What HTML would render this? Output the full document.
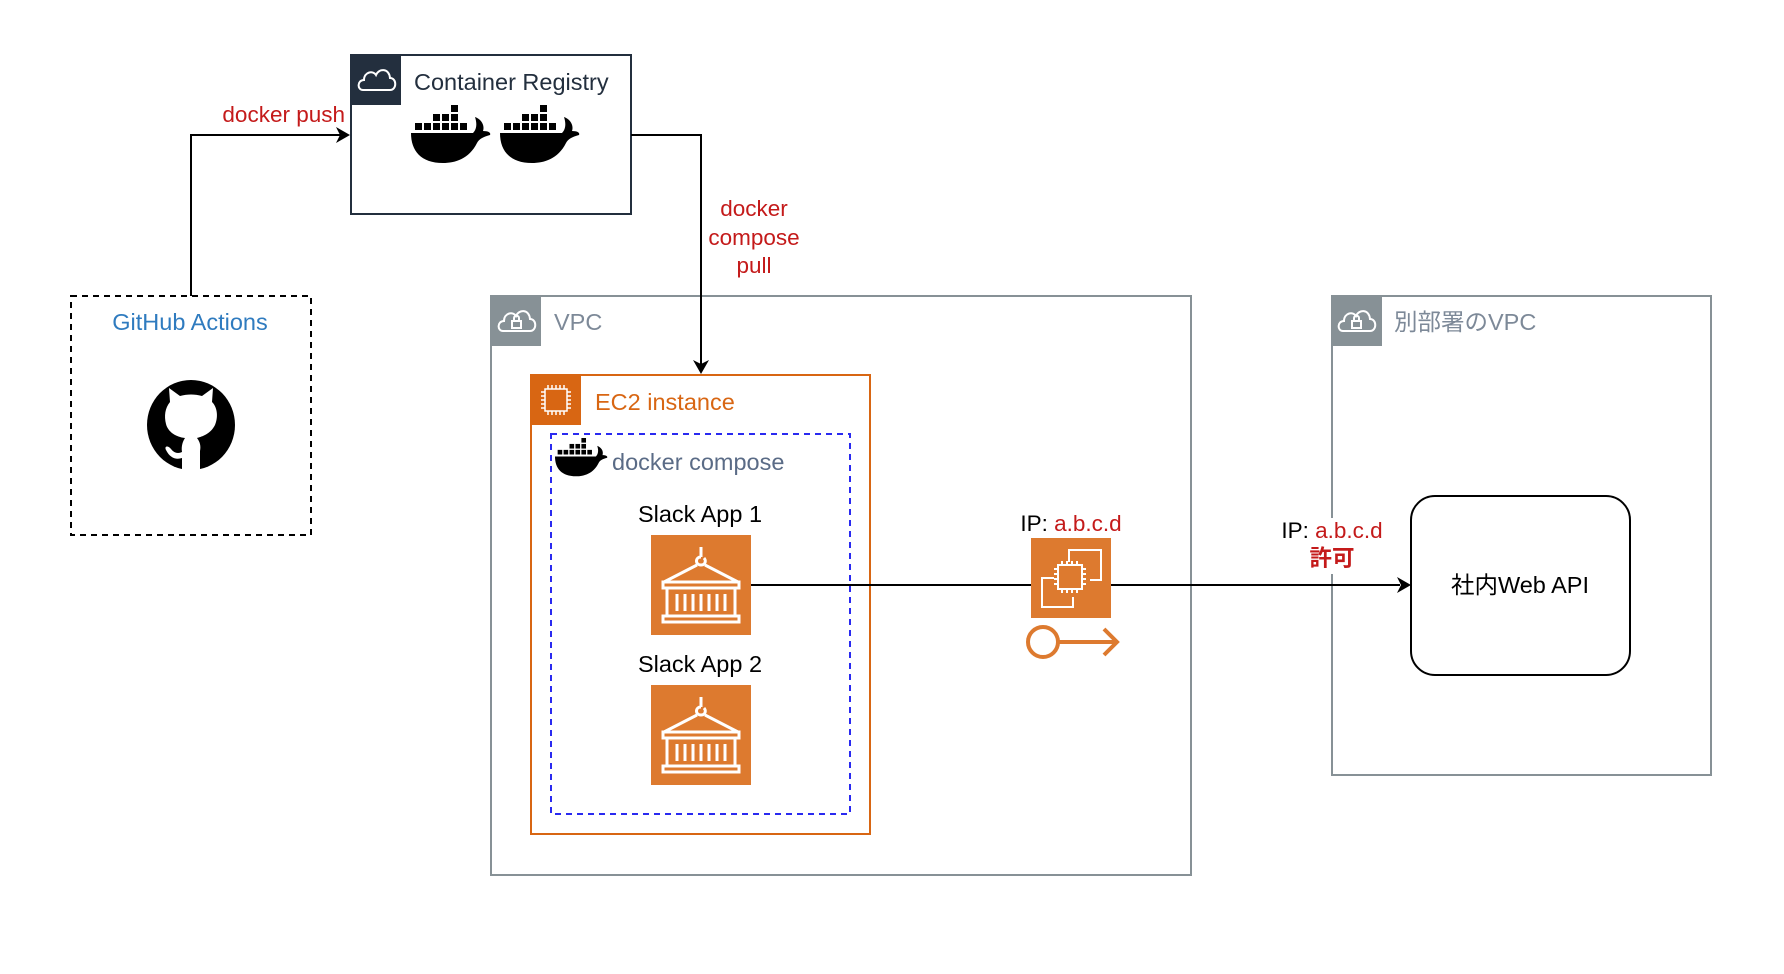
<!DOCTYPE html>
<html><head><meta charset="utf-8"><style>
html,body{margin:0;padding:0;background:#fff;}
svg{display:block;font-family:"Liberation Sans","Noto Sans CJK JP",sans-serif;}
</style></head><body>
<svg width="1784" height="974" viewBox="0 0 1784 974" xmlns="http://www.w3.org/2000/svg">
<defs>
<g id="whale">
<rect x="40" y="0" width="7" height="7"/>
<rect x="22" y="9" width="7" height="7"/><rect x="31" y="9" width="7" height="7"/><rect x="40" y="9" width="7" height="7"/>
<rect x="4" y="18" width="7" height="7"/><rect x="13" y="18" width="7" height="7"/><rect x="22" y="18" width="7" height="7"/><rect x="31" y="18" width="7" height="7"/><rect x="40" y="18" width="7" height="7"/><rect x="49" y="18" width="7" height="7"/>
<path d="M0 28 H62 C66 24 66 18 64 12 C70 14 74 20 72 26 C78 26 80 28 79 30 C72 32 68 34 66 38 C58 54 44 58 32 58 C10 58 0 46 0 28 Z"/>
</g>
<g id="cont" fill="none" stroke="#fff" stroke-width="3">
<path d="M50 12 V22 M50 22 C44 22 44 30 50 30 C55 30 55 25 53 23"/>
<path d="M46 30 L13 47 M54 30 L87 47"/>
<rect x="12" y="47" width="76" height="6"/>
<rect x="16" y="53" width="68" height="28"/>
<path d="M26 59 V76 M34 59 V76 M42 59 V76 M50 59 V76 M58 59 V76 M66 59 V76 M74 59 V76"/>
<rect x="12" y="81" width="76" height="6"/>
</g>
<g id="cloud" fill="none" stroke="#fff" stroke-width="2">
<path d="M8 30 C2 30 2 20 9 20 C9 12 18 10 21 15 C24 8 34 8 35 18 C42 18 42 30 35 30 Z"/>
</g>
</defs>

<!-- Container Registry -->
<rect x="351" y="55" width="280" height="159" fill="#fff" stroke="#232F3E" stroke-width="2"/>
<rect x="351" y="55" width="50" height="50" fill="#232F3E"/>
<g transform="translate(355,60)"><use href="#cloud"/></g>
<text x="414" y="90" font-size="23.5" fill="#232F3E">Container Registry</text>
<g transform="translate(411,105)"><use href="#whale"/></g>
<g transform="translate(500,105)"><use href="#whale"/></g>
<text x="345" y="122" font-size="22.5" fill="#C41A1A" text-anchor="end">docker push</text>
<g font-size="22.5" fill="#C41A1A" text-anchor="middle">
<text x="754" y="216">docker</text><text x="754" y="245">compose</text><text x="754" y="273">pull</text>
</g>

<!-- GitHub -->
<rect x="71" y="296" width="240" height="239" fill="none" stroke="#000" stroke-width="2" stroke-dasharray="6 5"/>
<text x="190" y="330" font-size="23.5" fill="#2F7BBF" text-anchor="middle">GitHub Actions</text>
<ellipse cx="191" cy="425" rx="44" ry="45" fill="#000"/>
<path d="M170 402 L169 388 L180 396 C187 394 195 394 202 396 L213 388 L212 402 C218 408 218 418 215 425 C210 435 200 437 197 438 C200 442 201 446 200 451 L200 470 L182 470 L182 458 C176 460 170 458 166 450 C164 446 168 445 171 449 C174 453 178 454 182 452 C181 446 183 441 185 438 C176 437 168 432 166 424 C164 416 165 408 170 402 Z" fill="#fff"/>

<!-- VPC -->
<rect x="491" y="296" width="700" height="579" fill="none" stroke="#879196" stroke-width="2"/>
<rect x="491" y="296" width="50" height="50" fill="#879196"/>
<g transform="translate(495,301)"><use href="#cloud"/><rect x="17" y="20" width="9" height="7" fill="none" stroke="#fff" stroke-width="2"/><path d="M19 20 V17 C19 14 24 14 24 17 V20" fill="none" stroke="#fff" stroke-width="2"/></g>
<text x="554" y="330" font-size="23.5" fill="#7D8998">VPC</text>

<!-- EC2 -->
<rect x="531" y="375" width="339" height="459" fill="#fff" stroke="#D86613" stroke-width="2"/>
<rect x="531" y="375" width="50" height="50" fill="#D86613"/>
<g fill="none" stroke="#fff" stroke-width="1.5"><rect x="545" y="389" width="22" height="22"/><path d="M548 389v-4M552 389v-4M556 389v-4M560 389v-4M564 389v-4M548 411v4M552 411v4M556 411v4M560 411v4M564 411v4M545 392h-4M545 396h-4M545 400h-4M545 404h-4M545 408h-4M567 392h4M567 396h4M567 400h4M567 404h4M567 408h4"/></g>
<text x="595" y="410" font-size="23.5" fill="#D86613">EC2 instance</text>

<!-- docker compose -->
<rect x="551" y="434" width="299" height="380" fill="none" stroke="#2A2AF0" stroke-width="2" stroke-dasharray="6 5"/>
<g transform="translate(555,438) scale(0.66)"><use href="#whale"/></g>
<text x="612" y="470" font-size="23.5" fill="#5A6B86">docker compose</text>

<text x="700" y="522" font-size="23.5" fill="#000" text-anchor="middle">Slack App 1</text>
<rect x="651" y="535" width="100" height="100" fill="#DD7A2F"/>
<g transform="translate(651,535)"><use href="#cont"/></g>
<text x="700" y="672" font-size="23.5" fill="#000" text-anchor="middle">Slack App 2</text>
<rect x="651" y="685" width="100" height="100" fill="#DD7A2F"/>
<g transform="translate(651,685)"><use href="#cont"/></g>

<!-- other VPC -->
<rect x="1332" y="296" width="379" height="479" fill="none" stroke="#879196" stroke-width="2"/>
<rect x="1332" y="296" width="50" height="50" fill="#879196"/>
<g transform="translate(1335,301)"><use href="#cloud"/><rect x="17" y="20" width="9" height="7" fill="none" stroke="#fff" stroke-width="2"/><path d="M19 20 V17 C19 14 24 14 24 17 V20" fill="none" stroke="#fff" stroke-width="2"/></g>
<text x="1394" y="330" font-size="23.5" fill="#7D8998">別部署のVPC</text>

<rect x="1411" y="496" width="219" height="179" rx="24" fill="#fff" stroke="#000" stroke-width="2"/>
<text x="1520" y="593" font-size="23.5" fill="#000" text-anchor="middle">社内Web API</text>

<!-- connectors -->
<g fill="none" stroke="#000" stroke-width="2">
<path d="M191 296 V135 H340"/>
<path d="M631 135 H701 V364"/>
<path d="M751 585 H1031"/>
<path d="M1111 585 H1400"/>
</g>
<path d="M350 135 L336 127 L340 135 L336 143 Z"/>
<path d="M701 374 L693 360 L701 364 L709 360 Z"/>
<path d="M1411 585 L1397 577 L1401 585 L1397 593 Z"/>

<!-- ENI / EIP -->
<text x="1071" y="531" font-size="22.5" text-anchor="middle"><tspan fill="#000">IP: </tspan><tspan fill="#C41A1A">a.b.c.d</tspan></text>
<rect x="1031" y="538" width="80" height="80" fill="#DD7A2F"/>
<g fill="none" stroke="#fff" stroke-width="2">
<path d="M1069 562 V550 H1101 V580 H1090"/>
<path d="M1054 578 H1042 V607 H1073 V597"/>
<rect x="1058" y="565" width="24" height="24"/>
<path d="M1062 565v-4M1067 565v-4M1072 565v-4M1077 565v-4M1062 589v4M1067 589v4M1072 589v4M1077 589v4M1058 569h-4M1058 574h-4M1058 579h-4M1058 584h-4M1082 569h4M1082 574h4M1082 579h4M1082 584h4"/>
</g>
<g fill="none" stroke="#DD7A2F" stroke-width="4">
<circle cx="1043" cy="642" r="15"/>
<path d="M1058 642 H1116 M1104 629 L1117 642 L1104 655"/>
</g>

<rect x="1330" y="518" width="4" height="56" fill="#fff"/>
<text x="1332" y="538" font-size="22.5" text-anchor="middle"><tspan fill="#000">IP: </tspan><tspan fill="#C41A1A">a.b.c.d</tspan></text>
<text x="1332" y="566" font-size="22.5" font-weight="bold" fill="#C41A1A" text-anchor="middle">許可</text>
</svg>
</body></html>
